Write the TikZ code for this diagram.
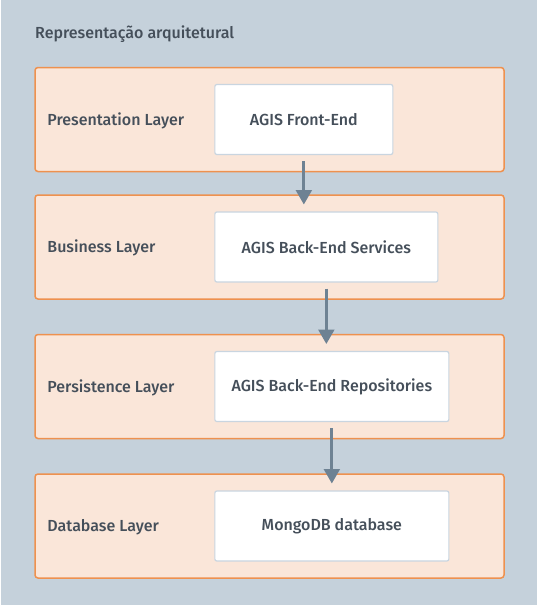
\documentclass[tikz,border=0pt]{standalone}
\usepackage{fontspec}
\setmainfont{Fira Sans}[UprightFont=* Medium]
\usepackage{tikz}
\usetikzlibrary{arrows}
\usetikzlibrary{positioning}
\definecolor{bgblue}{HTML}{C5D1DB}
\definecolor{layerfill}{HTML}{FAE6D9}
\definecolor{layerline}{HTML}{EE914F}
\definecolor{boxline}{HTML}{C9D5E0}
\definecolor{txtgray}{HTML}{454F5A}
\definecolor{arrowgray}{HTML}{6E8293}
\tikzset{%
  myedge/.style={->, draw=arrowgray, line width=3pt, >=triangle 60, shorten <=6pt, shorten >=7pt},
  layerbox/.style={rectangle, rounded corners=3pt, draw=layerline, line width=1.5pt, fill=layerfill, minimum width=469pt, minimum height=104pt, inner sep=0pt},
  compbox/.style={rectangle, rounded corners=2pt, draw=boxline, line width=1.2pt, fill=white, minimum height=70pt, inner sep=0pt, text=txtgray, font=\fontsize{16}{19}\selectfont},
  layertext/.style={text=txtgray, inner sep=0pt, font=\fontsize{16}{19}\selectfont}
}
\begin{document}
\begin{tikzpicture}[x=1pt, y=-1pt]
  \fill[white] (0,0) rectangle (537,605);
  \fill[bgblue] (1,0) rectangle (537,605);
  \useasboundingbox (0,0) rectangle (537,605);
  \node[layertext, anchor=west] (title) at (35,34.5) {Representação arquitetural};
  \node[layerbox] (l1) at (269.5,119.5) {};
  \node[layerbox, below=22pt of l1] (l2) {};
  \node[layerbox, below=34pt of l2] (l3) {};
  \node[layerbox, below=34pt of l3] (l4) {};
  \node[layertext, right=13pt, yshift=-1pt] (t1) at (l1.west) {Presentation Layer};
  \node[layertext, right=13pt, yshift=-1pt] (t2) at (l2.west) {Business Layer};
  \node[layertext, right=13pt, yshift=-1pt] (t3) at (l3.west) {Persistence Layer};
  \node[layertext, right=13pt, yshift=-1pt] (t4) at (l4.west) {Database Layer};
  \node[compbox, minimum width=178pt, right=180pt] (fe) at (l1.west) {AGIS Front-End};
  \node[compbox, minimum width=223pt, right=180pt] (svc) at (l2.west) {AGIS Back-End Services};
  \node[compbox, minimum width=234pt, right=180pt] (repo) at (l3.west) {AGIS Back-End Repositories};
  \node[compbox, minimum width=234pt, right=180pt] (db) at (l4.west) {MongoDB database};
  \draw [myedge] (fe.south) -- (fe.south |- svc.north);
  \draw [myedge] (svc.south) -- (svc.south |- repo.north);
  \draw [myedge] (repo.south) -- (repo.south |- db.north);
\end{tikzpicture}
\end{document}
